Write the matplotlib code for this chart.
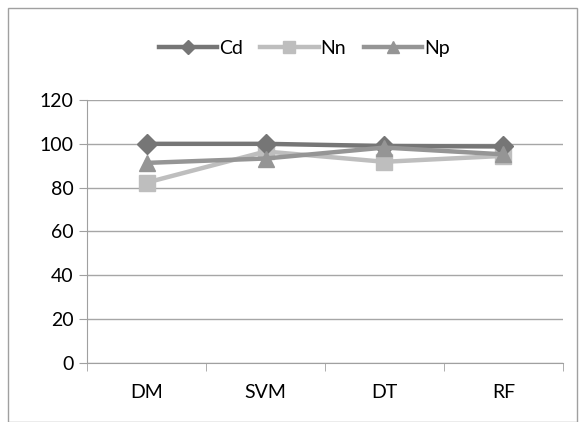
import matplotlib
matplotlib.use("Agg")
import matplotlib.pyplot as plt
from matplotlib.patches import Rectangle

categories = ["DM", "SVM", "DT", "RF"]
cd = [100, 100, 99, 98.8]
nn = [82.3, 96.5, 91.8, 94.5]
np_ = [91.3, 93.3, 98.3, 95.2]
yticks = [0, 20, 40, 60, 80, 100, 120]

plt.rcParams['font.family'] = ['Lato', 'DejaVu Sans']

fig = plt.figure(figsize=(5.85, 4.22), dpi=100)
ax = fig.add_axes([0.149, 0.140, 0.813, 0.623])

x = range(len(categories))
ax.plot(x, cd, color="#767676", lw=3.2, marker="D", ms=10, label="Cd", zorder=3)
ax.plot(x, nn, color="#BEBEBE", lw=3.2, marker="s", ms=11, label="Nn", zorder=2)
ax.plot(x, np_, color="#959595", lw=3.2, marker="^", ms=12, label="Np", zorder=4)

ax.set_ylim(0, 120)
ax.set_xlim(-0.5, 3.5)
ax.set_yticks(yticks)
ax.set_xticks(list(x))
ax.set_xticklabels(categories)
ax.set_xticks([-0.5, 0.5, 1.5, 2.5, 3.5], minor=True)
ax.tick_params(axis='x', which='major', length=0, pad=15, labelsize=14)
ax.tick_params(axis='x', which='minor', length=6, color="#A0A0A0", direction='out')
ax.tick_params(axis='y', length=6, color="#A0A0A0", labelsize=14, pad=4)
ax.grid(axis='y', color="#A6A6A6", lw=1)
ax.set_axisbelow(True)
for s in ["top", "right"]:
    ax.spines[s].set_visible(False)
ax.spines["left"].set_color("#A0A0A0")
ax.spines["bottom"].set_color("#A0A0A0")

fig.legend(loc="center", bbox_to_anchor=(0.52, 0.885), ncol=3, frameon=False,
           fontsize=14, handlelength=3.0, columnspacing=0.9, handletextpad=0.1,
           markerscale=0.75)

fig.patches.append(Rectangle((8/585, 0.0), 569/585, 1 - 8/422, transform=fig.transFigure,
                             fill=False, edgecolor="#A0A0A0", lw=1))

fig.savefig("out.png", dpi=100)
